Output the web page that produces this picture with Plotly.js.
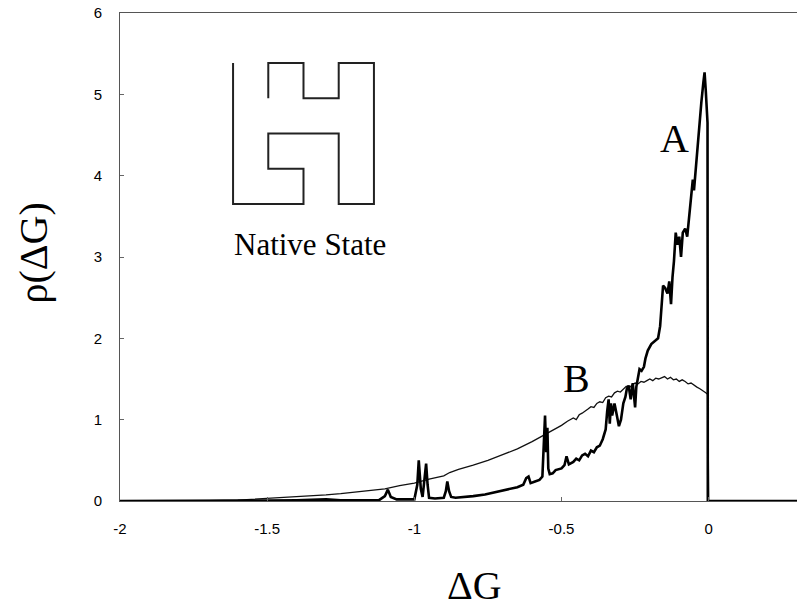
<!DOCTYPE html>
<html><head><meta charset="utf-8">
<script src="https://cdn.plot.ly/plotly-3.0.1.min.js"></script>
<style>html,body{margin:0;padding:0;background:#fff;}#chart{width:798px;height:607px;}</style>
</head><body><div id="chart"></div>
<script>
// Curve A (native-state sequence), rho(ΔG)
var xA = [-2.0,-1.7,-1.5,-1.4,-1.3,-1.25,-1.2,-1.12,-1.1,-1.09,-1.08,-1.06,-1.0,-0.99,-0.985,-0.978,-0.972,-0.965,-0.96,-0.955,-0.95,-0.93,-0.9,-0.893,-0.888,-0.882,-0.875,-0.86,-0.84,-0.8,-0.76,-0.72,-0.68,-0.65,-0.63,-0.62,-0.612,-0.605,-0.59,-0.575,-0.565,-0.56,-0.556,-0.552,-0.548,-0.545,-0.54,-0.53,-0.52,-0.5,-0.49,-0.483,-0.475,-0.46,-0.45,-0.44,-0.43,-0.42,-0.41,-0.4,-0.39,-0.38,-0.37,-0.36,-0.355,-0.35,-0.345,-0.34,-0.336,-0.332,-0.328,-0.32,-0.312,-0.305,-0.298,-0.29,-0.283,-0.278,-0.272,-0.265,-0.258,-0.25,-0.246,-0.24,-0.235,-0.228,-0.22,-0.215,-0.207,-0.195,-0.185,-0.172,-0.165,-0.16,-0.155,-0.148,-0.14,-0.134,-0.128,-0.123,-0.118,-0.112,-0.106,-0.1,-0.094,-0.088,-0.08,-0.073,-0.065,-0.058,-0.054,-0.05,-0.045,-0.04,-0.032,-0.025,-0.018,-0.014,-0.01,-0.006,-0.004,-0.003,0.3];
var yA = [0,0,0.005,0.01,0.02,0.01,0.01,0.01,0.06,0.14,0.05,0.02,0.02,0.2,0.5,0.15,0.05,0.3,0.46,0.2,0.04,0.03,0.04,0.12,0.24,0.12,0.05,0.04,0.045,0.06,0.08,0.11,0.14,0.17,0.2,0.28,0.3,0.22,0.24,0.26,0.3,0.7,1.05,0.6,0.9,0.4,0.33,0.34,0.38,0.4,0.44,0.55,0.45,0.48,0.52,0.5,0.56,0.58,0.55,0.62,0.6,0.66,0.68,0.76,0.84,0.88,1.1,1.25,0.95,1.2,1.05,1.2,1.05,0.92,1.0,1.2,1.28,1.38,1.42,1.25,1.45,1.15,1.4,1.55,1.62,1.6,1.65,1.75,1.85,1.93,1.96,2.0,2.15,2.35,2.65,2.62,2.55,2.7,2.42,2.75,2.95,3.3,3.15,3.25,3.0,3.3,3.35,3.25,3.55,3.75,3.95,3.82,4.05,4.3,4.6,4.9,5.15,5.27,5.05,4.75,4.65,0,0];
// Curve B (random sequence)
var xB = [-2.0,-1.8,-1.7,-1.6,-1.5,-1.45,-1.4,-1.35,-1.3,-1.25,-1.2,-1.15,-1.1,-1.05,-1.0,-0.95,-0.9,-0.88,-0.85,-0.8,-0.75,-0.7,-0.65,-0.6,-0.55,-0.52,-0.5,-0.48,-0.46,-0.45,-0.44,-0.43,-0.42,-0.41,-0.4,-0.39,-0.38,-0.37,-0.36,-0.35,-0.34,-0.33,-0.32,-0.31,-0.3,-0.29,-0.28,-0.27,-0.26,-0.25,-0.24,-0.23,-0.22,-0.21,-0.2,-0.19,-0.18,-0.17,-0.16,-0.15,-0.14,-0.13,-0.12,-0.11,-0.1,-0.09,-0.08,-0.07,-0.06,-0.05,-0.04,-0.03,-0.02,-0.01,-0.003,0.0,0.3];
var yB = [0,0,0.005,0.01,0.03,0.04,0.05,0.06,0.075,0.09,0.11,0.13,0.15,0.19,0.22,0.27,0.31,0.35,0.39,0.44,0.5,0.57,0.64,0.73,0.83,0.88,0.93,0.98,1.02,1.0,1.06,1.08,1.1,1.13,1.16,1.15,1.2,1.22,1.21,1.27,1.29,1.28,1.33,1.35,1.34,1.38,1.41,1.39,1.43,1.45,1.44,1.47,1.46,1.48,1.5,1.48,1.51,1.5,1.52,1.53,1.5,1.52,1.49,1.5,1.47,1.49,1.47,1.44,1.45,1.42,1.4,1.38,1.36,1.33,1.31,0,0];
// Native-state lattice conformation (column, row)
var nativeCol = [0,0,0,0,0,1,2,2,1,1,2,3,3,3,4,4,4,4,4,3,3,2,2,1,1];
var nativeRow = [0,1,2,3,4,4,4,3,3,2,2,2,3,4,4,3,2,1,0,0,1,1,0,0,1];
var xTickVals = [-2,-1.5,-1,-0.5,0];
var xTickText = ['-2','-1.5','-1','-0.5','0'];
var yTickVals = [0,1,2,3,4,5,6];
var yTickText = ['0','1','2','3','4','5','6'];

var data = [
  {x:xB, y:yB, type:'scatter', mode:'lines', line:{color:'#111', width:1.3}, hoverinfo:'skip'},
  {x:xA, y:yA, type:'scatter', mode:'lines', line:{color:'#000', width:2.6}, hoverinfo:'skip'},
  {x:nativeCol, y:nativeRow, xaxis:'x2', yaxis:'y2', type:'scatter', mode:'lines', line:{color:'#222', width:2}, hoverinfo:'skip'}
];
var serif = 'Liberation Serif, Times New Roman, serif';
var layout = {
  width:798, height:607, paper_bgcolor:'#fff', plot_bgcolor:'#fff', showlegend:false,
  margin:{l:120, r:1, t:13, b:106},
  font:{family:'Liberation Sans, Arial, sans-serif', size:15, color:'#000'},
  xaxis:{range:[-2,0.3], tickvals:xTickVals, ticktext:xTickText, ticks:'inside', ticklen:4, tickcolor:'#666',
         showline:true, linecolor:'#555', linewidth:1, mirror:true, showgrid:false, zeroline:false, ticklabelstandoff:14},
  yaxis:{range:[0,6], tickvals:yTickVals, ticktext:yTickText, ticks:'inside', ticklen:4, tickcolor:'#666',
         showline:true, linecolor:'#555', linewidth:1, showgrid:false, zeroline:false, ticklabelstandoff:14},
  xaxis2:{domain:[0.1566,0.3855], range:[-0.2,4.2], anchor:'y2', visible:false},
  yaxis2:{domain:[0.5943,0.9119], range:[4.2,-0.2], anchor:'x2', visible:false},
  annotations:[
    {xref:'x', yref:'y', x:-1.355, y:3.15, text:'Native State', showarrow:false, font:{family:serif, size:31, color:'#000'}},
    {xref:'x', yref:'y', x:-0.115, y:4.46, text:'A', showarrow:false, font:{family:serif, size:40, color:'#000'}},
    {xref:'x', yref:'y', x:-0.448, y:1.51, text:'B', showarrow:false, font:{family:serif, size:40, color:'#000'}},
    {xref:'paper', yref:'paper', x:(474-120)/677, y:(501-610)/488, text:'ΔG', showarrow:false, font:{family:serif, size:40, color:'#000'}},
    {xref:'paper', yref:'paper', x:(8-120)/677, y:(501-253)/488, text:'ρ(ΔG)', textangle:-90, showarrow:false, font:{family:serif, size:40, color:'#000'}}
  ]
};
Plotly.newPlot('chart', data, layout, {staticPlot:true, displayModeBar:false});
</script>
</body></html>
